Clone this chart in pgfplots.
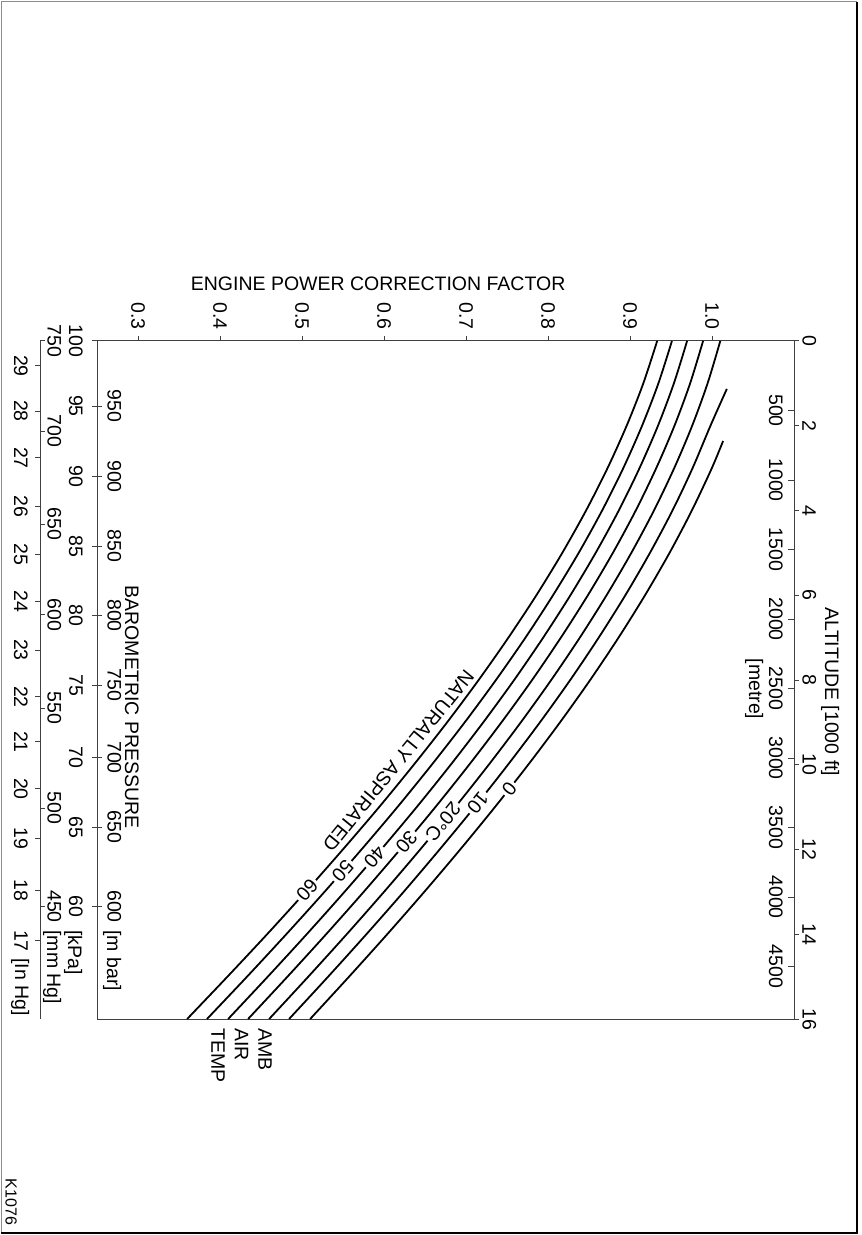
\documentclass[border=0pt]{standalone}
\usepackage{pgfplots}
\pgfplotsset{compat=1.18}
\usepackage{fontspec}
\setmainfont{Liberation Sans}
\newcommand\chartfont{\fontsize{9.75}{11.75}\selectfont}
\pgfplotsset{
  base/.style={
    scale only axis, width=348.5pt, height=339pt,
    at={(0pt,0pt)}, anchor=south west,
    xmin=0.25, xmax=1.10, ymin=0, ymax=16, y dir=reverse,
    clip=false,
    axis line style={black!75, line width=0.5pt},
    tick style={black!75, line width=0.5pt},
    major tick length=2.5pt,
    every tick label/.append style={font=\chartfont, inner sep=0pt},
  },
  side/.style={base, axis x line=none, xtick=\empty},
  curve/.style={black, line width=0.9pt, smooth},
}
\tikzset{clabel/.style={fill=white, inner sep=1.2pt, font=\chartfont}}
\begin{document}
\begin{tikzpicture}
% ---------------- main axis: factor (x) vs altitude [1000 ft] (y) ----------------
\begin{axis}[base,
  xtick={0.3,0.4,0.5,0.6,0.7,0.8,0.9,1.0},
  xticklabels={0.3,0.4,0.5,0.6,0.7,0.8,0.9,1.0},
  xtick pos=right, xticklabel pos=right,
  ytick={0,2,4,6,8,10,12,14,16},
  yticklabels={0,2,4,6,8,10,12,14,16},
  ytick pos=right, yticklabel pos=right,
  tick align=outside,
  xticklabel style={rotate=-90, anchor=east},
  yticklabel style={rotate=-90, anchor=south},
  xticklabel shift=3pt, yticklabel shift=1.5pt,
]
% 60 C
\addplot[curve] coordinates {(0.9330,0) (0.9161,1) (0.8958,2) (0.8725,3) (0.8463,4) (0.8173,5) (0.7857,6) (0.7516,7) (0.7153,8) (0.6768,9) (0.6362,10) (0.5939,11) (0.5497,12) (0.5042,13) (0.4573,14) (0.4090,15) (0.3598,16)};
% 50 C
\addplot[curve] coordinates {(0.9510,0) (0.9345,1) (0.9146,2) (0.8917,3) (0.8659,4) (0.8373,5) (0.8060,6) (0.7724,7) (0.7364,8) (0.6983,9) (0.6581,10) (0.6162,11) (0.5724,12) (0.5273,13) (0.4807,14) (0.4329,15) (0.3840,16)};
% 40 C
\addplot[curve] coordinates {(0.9695,0) (0.9534,1) (0.9340,2) (0.9115,3) (0.8862,4) (0.8580,5) (0.8272,6) (0.7940,7) (0.7586,8) (0.7209,9) (0.6812,10) (0.6397,11) (0.5964,12) (0.5517,13) (0.5056,14) (0.4582,15) (0.4098,16)};
% 30 C
\addplot[curve] coordinates {(0.9890,0) (0.9732,1) (0.9541,2) (0.9319,3) (0.9069,4) (0.8790,5) (0.8485,6) (0.8156,7) (0.7805,8) (0.7431,9) (0.7037,10) (0.6625,11) (0.6195,12) (0.5751,13) (0.5293,14) (0.4822,15) (0.4341,16)};
% 20 C
\addplot[curve] coordinates {(1.0100,0) (0.9945,1) (0.9757,2) (0.9538,3) (0.9291,4) (0.9015,5) (0.8713,6) (0.8387,7) (0.8038,8) (0.7667,9) (0.7276,10) (0.6867,11) (0.6440,12) (0.5999,13) (0.5544,14) (0.5076,15) (0.4598,16)};
% 10 C
\addplot[curve] coordinates {(1.0180,1.13) (0.9980,2) (0.9762,3) (0.9517,4) (0.9242,5) (0.8942,6) (0.8617,7) (0.8270,8) (0.7900,9) (0.7510,10) (0.7103,11) (0.6677,12) (0.6238,13) (0.5784,14) (0.5318,15) (0.4841,16)};
% 0 C
\addplot[curve] coordinates {(1.0134,2.36) (0.9997,3) (0.9753,4) (0.9481,5) (0.9182,6) (0.8859,7) (0.8513,8) (0.8145,9) (0.7757,10) (0.7351,11) (0.6928,12) (0.6490,13) (0.6038,14) (0.5573,15) (0.5098,16)};
% inline curve labels
\node[clabel, rotate=231.8] at (axis cs:0.7528,10.57) {0};
\node[clabel, rotate=231.3] at (axis cs:0.7144,10.90) {10};
\node[clabel, rotate=230.7] at (axis cs:0.6719,11.35) {20°C};
\node[clabel, rotate=230.0] at (axis cs:0.6274,11.82) {30};
\node[clabel, rotate=229.4] at (axis cs:0.5885,12.18) {40};
\node[clabel, rotate=228.8] at (axis cs:0.5496,12.51) {50};
\node[clabel, rotate=228.2] at (axis cs:0.5061,12.96) {60};
\node[font=\chartfont, rotate=230.8, anchor=north, inner sep=3.5pt] at (axis cs:0.6312,10.12) {NATURALLY ASPIRATED};
\end{axis}
% ---------------- metre scale (inside, right line) ----------------
\begin{axis}[side, axis y line*=right,
  ytick={1.6404,3.2808,4.9213,6.5617,8.2021,9.8425,11.4829,13.1234,14.7638},
  yticklabels={500,1000,1500,2000,2500,3000,3500,4000,4500},
  tick align=inside, major tick length=3pt,
  yticklabel style={rotate=-90, anchor=north}, yticklabel shift=-5.5pt]
\end{axis}
% ---------------- kPa scale (outside, left line) ----------------
\begin{axis}[side, axis y line*=left,
  ytick={0,1.534,3.198,4.838,6.478,8.118,9.829,11.469,13.345},
  yticklabels={100,95,90,85,80,75,70,65,60},
  tick align=outside,
  yticklabel style={rotate=-90, anchor=north}, yticklabel shift=4.5pt]
\end{axis}
% ---------------- m bar scale (inside, left line) ----------------
\begin{axis}[side, axis y line*=left,
  ytick={1.534,3.198,4.838,6.478,8.118,9.829,11.469,13.345},
  yticklabels={950,900,850,800,750,700,650,600},
  tick align=inside,
  yticklabel style={rotate=-90, anchor=south}, yticklabel shift=-5pt]
\end{axis}
% ---------------- In Hg scale (outside, second line) ----------------
\begin{axis}[side, at={(-28.5pt,0pt)}, axis y line*=left,
  ytick={0.590,1.652,2.761,3.894,5.027,6.136,7.292,8.401,9.463,10.572,11.729,12.956,14.159},
  yticklabels={29,28,27,26,25,24,23,22,21,20,19,18,17},
  tick align=outside,
  yticklabel style={rotate=-90, anchor=north}, yticklabel shift=3.5pt]
\end{axis}
% ---------------- mm Hg scale (inside, second line) ----------------
\begin{axis}[side, at={(-28.5pt,0pt)}, axis y line*=left,
  ytick={0,2.124,4.319,6.466,8.661,11.021,13.345},
  yticklabels={750,700,650,600,550,500,450},
  tick align=inside,
  yticklabel style={rotate=-90, anchor=south}, yticklabel shift=-3.5pt]
\end{axis}
% ---------------- titles, units, frame (page pixel grid) ----------------
\begin{scope}[x=0.5pt, y=-0.5pt, shift={(-48.5pt,509.5pt)}]
\path (0,0) rectangle (861,1235);
\draw[black!45, line width=0.5pt] (1,1233) -- (1,2) -- (857,2);
\draw[black, line width=1.1pt] (857,2) -- (857,1233) -- (1,1233);
\node[font=\chartfont, anchor=base, inner sep=0pt] at (378,291) {ENGINE POWER CORRECTION FACTOR};
\node[font=\chartfont, rotate=-90, anchor=base, inner sep=0pt] at (825,692) {ALTITUDE [1000 ft]};
\node[font=\chartfont, rotate=-90, inner sep=0pt] at (754,689) {[metre]};
\node[font=\chartfont, rotate=-90, anchor=base, inner sep=0pt] at (125,707) {BAROMETRIC PRESSURE};
\node[font=\chartfont, rotate=-90, anchor=base west, inner sep=0pt] at (107,930) {[m bar]};
\node[font=\chartfont, rotate=-90, anchor=base west, inner sep=0pt] at (68,930) {[kPa]};
\node[font=\chartfont, rotate=-90, anchor=base west, inner sep=0pt] at (47,930) {[mm Hg]};
\node[font=\chartfont, rotate=-90, anchor=base west, inner sep=0pt] at (15,958) {[In Hg]};
\node[font=\chartfont, rotate=-90, align=left, anchor=north west, inner sep=0pt] at (272,1028) {AMB\\AIR\\TEMP};
\node[font=\fontsize{8}{9.6}\selectfont, rotate=-90, inner sep=0pt] at (11,1202) {K1076};
\end{scope}
\end{tikzpicture}
\end{document}
